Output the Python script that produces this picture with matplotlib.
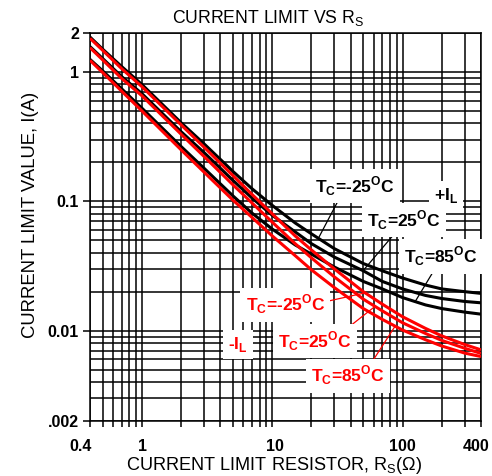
import numpy as np
import matplotlib
matplotlib.use("Agg")
import matplotlib.pyplot as plt
import matplotlib.transforms as mtransforms
from matplotlib.ticker import FixedLocator, NullFormatter

plt.rcParams["font.family"] = ["Liberation Sans", "DejaVu Sans"]

# ── DATA ──────────────────────────────────────────────────────────────────────
r_ohm = [0.4, 0.5, 0.7, 1, 2, 3, 5, 7, 10, 15, 20, 30, 50, 70, 100, 150, 200, 300, 400]

# +IL (black)
pos_m25 = [1.86, 1.50, 1.10, 0.80, 0.405, 0.278, 0.170, 0.125, 0.093, 0.068, 0.056,
           0.043, 0.033, 0.029, 0.0255, 0.0225, 0.021, 0.020, 0.0194]
pos_25  = [1.57, 1.27, 0.92, 0.68, 0.345, 0.238, 0.145, 0.106, 0.078, 0.058, 0.047,
           0.037, 0.029, 0.024, 0.021, 0.0187, 0.0177, 0.0168, 0.0164]
pos_85  = [1.25, 1.02, 0.74, 0.525, 0.265, 0.180, 0.110, 0.081, 0.061, 0.046, 0.039,
           0.031, 0.0240, 0.021, 0.018, 0.0158, 0.0148, 0.0139, 0.0134]

# -IL (red)
neg_m25 = [1.82, 1.47, 1.06, 0.77, 0.39, 0.262, 0.158, 0.113, 0.080, 0.054, 0.042,
           0.030, 0.020, 0.016, 0.0128, 0.0104, 0.0091, 0.0078, 0.0071]
neg_25  = [1.54, 1.24, 0.89, 0.655, 0.33, 0.222, 0.134, 0.097, 0.069, 0.047, 0.0365,
           0.026, 0.0175, 0.0142, 0.0115, 0.0095, 0.0084, 0.0073, 0.00666]
neg_85  = [1.23, 0.99, 0.71, 0.50, 0.25, 0.168, 0.102, 0.075, 0.054, 0.038, 0.0295,
           0.0215, 0.0148, 0.0122, 0.0101, 0.0085, 0.0076, 0.0067, 0.0063]

x_ticks = [0.4, 1, 10, 100, 400]
x_tick_labels = ["0.4", "1", "10", "100", "400"]
y_ticks = [0.002, 0.01, 0.1, 1, 2]
y_tick_labels = [".002", "0.01", "0.1", "1", "2"]

RED = "#ff0000"


def on_curve(r, vals):
    # point on a curve at resistance r (log-log interpolation)
    ly = np.interp(np.log10(r), np.log10(r_ohm), np.log10(vals))
    return r, 10 ** ly


fig = plt.figure(figsize=(4.92, 4.76), dpi=100)
ax = fig.add_axes([90 / 492, 1 - 421 / 476, 391 / 492, 388 / 476])

ax.set_xscale("log")
ax.set_yscale("log")
ax.set_xlim(0.4, 400)
ax.set_ylim(0.002, 2)

# grid
x_minor = [v * d for d in (0.1, 1, 10, 100) for v in range(2, 10) if 0.4 <= v * d <= 400]
y_minor = [v * d for d in (0.001, 0.01, 0.1) for v in range(2, 10) if 0.002 <= v * d <= 2]
ax.xaxis.set_major_locator(FixedLocator(x_ticks))
ax.xaxis.set_minor_locator(FixedLocator(x_minor))
ax.yaxis.set_major_locator(FixedLocator(y_ticks))
ax.yaxis.set_minor_locator(FixedLocator(y_minor))
ax.set_yticklabels(y_tick_labels)
ax.xaxis.set_minor_formatter(NullFormatter())
ax.yaxis.set_minor_formatter(NullFormatter())
ax.grid(True, which="both", color="black", lw=1.1)

ax.tick_params(axis="x", which="both", direction="out", length=4, width=1.1,
               labelbottom=False)
ax.tick_params(axis="y", which="major", direction="out", length=5, width=1.1,
               pad=3, labelsize=11.5)
ax.tick_params(axis="y", which="minor", length=0)
for lab in ax.get_yticklabels():
    lab.set_fontweight("bold")
for sp in ax.spines.values():
    sp.set_linewidth(1.1)

# x tick labels, nudged like the reference (ends pulled inward)
x_nudge_px = [-9, 0.5, 3, 0, -5]
xtrans = mtransforms.blended_transform_factory(ax.transData, ax.transAxes)
for xv, txt, dx in zip(x_ticks, x_tick_labels, x_nudge_px):
    tr = xtrans + mtransforms.ScaledTranslation(dx / 100, 0, fig.dpi_scale_trans)
    ax.text(xv, -0.0765, txt, transform=tr, ha="center", va="baseline",
            fontsize=11.5, fontweight="bold", clip_on=False)

# curves
for vals in (pos_m25, pos_25, pos_85):
    ax.plot(r_ohm, vals, color="black", lw=2.2, solid_capstyle="butt", zorder=3)
for vals in (neg_m25, neg_25, neg_85):
    ax.plot(r_ohm, vals, color=RED, lw=2.2, solid_capstyle="butt", zorder=4)

# labels with leaders
box = dict(boxstyle="square,pad=0.3", fc="white", ec="none")
lab_kw = dict(fontsize=12.5, fontweight="bold", ha="center", va="baseline",
              bbox=box, zorder=6)

labels = [
    (r"T$_\mathregular{C}$=-25$^\mathregular{O}$C", (43.2, 0.1178), (22.6, pos_m25), "black"),
    (r"T$_\mathregular{C}$=25$^\mathregular{O}$C", (102.8, 0.0643), (49.8, pos_25), "black"),
    (r"T$_\mathregular{C}$=85$^\mathregular{O}$C", (197.6, 0.0335), (125, pos_85), "black"),
    (r"T$_\mathregular{C}$=-25$^\mathregular{O}$C", (12.6, 0.01423), (51.6, neg_m25), RED),
    (r"T$_\mathregular{C}$=25$^\mathregular{O}$C", (21.3, 0.00741), (61.5, neg_25), RED),
    (r"T$_\mathregular{C}$=85$^\mathregular{O}$C", (38.4, 0.00402), (87.7, neg_85), RED),
]
leader_start = [(33.2, 0.108), (88.0, 0.0571), (175.0, 0.0294),
                (19.3, 0.0157), (28.3, 0.0083), (49.3, 0.0044)]
for (txt, pos, (r_end, vals), col), start in zip(labels, leader_start):
    ax.text(pos[0], pos[1], txt, color=col, **lab_kw)
    end = on_curve(r_end, vals)
    ax.plot([start[0], end[0]], [start[1], end[1]], color=col, lw=0.9, zorder=5)

ax.text(216, 0.102, r"+I$_\mathregular{L}$", color="black", **lab_kw)
ax.text(5.47, 0.00719, r"-I$_\mathregular{L}$", color=RED, **lab_kw)

# titles
fig.text(268 / 492, 1 - 22.7 / 476, r"CURRENT LIMIT VS R$_\mathregular{S}$",
         ha="center", va="baseline", fontsize=12.7)
fig.text(274.5 / 492, 1 - 470.5 / 476, r"CURRENT LIMIT RESISTOR, R$_\mathregular{S}$(Ω)",
         ha="center", va="baseline", fontsize=13.1)
fig.text(31 / 492, 1 - 215 / 476, "CURRENT LIMIT VALUE, I(A)",
         ha="center", va="center", rotation=90, fontsize=13.3)

fig.savefig("out.png", dpi=100)
